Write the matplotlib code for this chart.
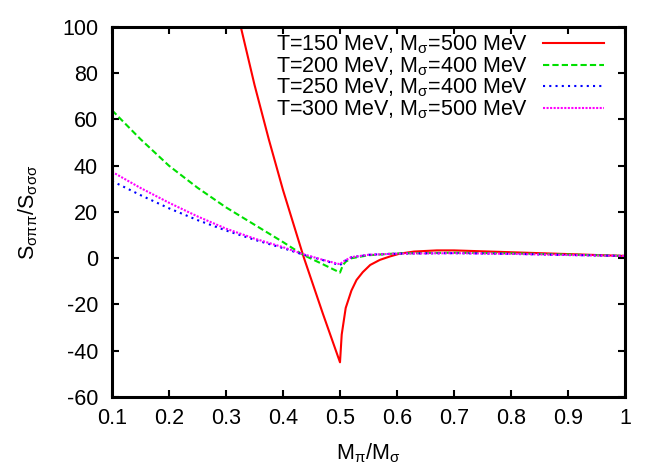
import matplotlib
matplotlib.use("Agg")
import matplotlib.pyplot as plt

# x values (M_pi / M_sigma) and ratios S_sigma-pi-pi / S_sigma-sigma-sigma
x_red = [0.30, 0.326, 0.35, 0.375, 0.40, 0.436, 0.47, 0.50, 0.503, 0.51, 0.52, 0.529, 0.54, 0.553, 0.57, 0.588, 0.605, 0.63, 0.67, 0.70, 0.80, 0.90, 1.00]
y_red = [128, 100, 75, 51.5, 29.5, 0.7, -24, -45, -33, -21.5, -14, -9.4, -6, -2.9, -0.7, 0.8, 2.0, 2.9, 3.4, 3.4, 2.6, 1.8, 1.0]

x_grn = [0.10, 0.15, 0.20, 0.25, 0.30, 0.35, 0.40, 0.435, 0.47, 0.50, 0.505, 0.51, 0.52, 0.55, 0.60, 0.70, 0.80, 0.90, 1.00]
y_grn = [64, 51.5, 40, 30.5, 22, 14.5, 7, 1.5, -2.6, -6.2, -3, -1.5, 0, 1.3, 2.1, 2.4, 2.1, 1.6, 1.0]

x_blu = [0.10, 0.15, 0.20, 0.25, 0.30, 0.35, 0.40, 0.435, 0.47, 0.50, 0.505, 0.51, 0.52, 0.55, 0.60, 0.70, 0.80, 0.90, 1.00]
y_blu = [33.4, 27.3, 21.6, 16.5, 12.0, 8.0, 4.4, 1.6, -0.8, -3, -1.8, -1, 0.4, 1.5, 2.0, 2.2, 1.9, 1.4, 1.0]

x_mag = [0.10, 0.15, 0.20, 0.25, 0.30, 0.35, 0.40, 0.435, 0.47, 0.50, 0.505, 0.51, 0.52, 0.55, 0.60, 0.70, 0.80, 0.90, 1.00]
y_mag = [37.4, 30.4, 24.0, 18.1, 12.8, 8.5, 4.8, 1.8, -0.7, -2.6, -1.5, -0.8, 0.5, 1.5, 2.0, 2.2, 1.9, 1.4, 1.0]

labels = [r"T=150 MeV, M$_\sigma$=500 MeV",
          r"T=200 MeV, M$_\sigma$=400 MeV",
          r"T=250 MeV, M$_\sigma$=400 MeV",
          r"T=300 MeV, M$_\sigma$=500 MeV"]

xticks = [0.1, 0.2, 0.3, 0.4, 0.5, 0.6, 0.7, 0.8, 0.9, 1.0]
xticklabels = ["0.1", "0.2", "0.3", "0.4", "0.5", "0.6", "0.7", "0.8", "0.9", "1"]
yticks = [-60, -40, -20, 0, 20, 40, 60, 80, 100]

plt.rcParams['font.family'] = ['Liberation Sans', 'DejaVu Sans']
plt.rcParams['mathtext.fontset'] = 'custom'
plt.rcParams['mathtext.rm'] = 'Liberation Sans'
plt.rcParams['mathtext.it'] = 'Liberation Sans'
plt.rcParams['axes.unicode_minus'] = False

FS = 15.5

fig = plt.figure(figsize=(6.64, 4.65), dpi=100)
ax = fig.add_axes([112/664, 1-397/465, (625-112)/664, (397-27)/465])

ax.plot(x_red, y_red, color='#ff0000', lw=1.5, ls='-', label=labels[0])
ax.plot(x_grn, y_grn, color='#00e000', lw=1.5, ls=(0, (3, 1.5)), label=labels[1])
ax.plot(x_blu, y_blu, color='#0000ff', lw=1.5, ls=(0, (1, 2)), label=labels[2])
ax.plot(x_mag, y_mag, color='#ff00ff', lw=1.5, ls=(0, (1, 0.7)), label=labels[3])

ax.set_xlim(0.1, 1.0)
ax.set_ylim(-60, 100)
ax.set_xticks(xticks)
ax.set_xticklabels(xticklabels)
ax.set_yticks(yticks)
ax.tick_params(direction='in', top=True, right=True, length=5, width=1.5,
               labelsize=FS)
ax.tick_params(axis='x', pad=8)
ax.tick_params(axis='y', pad=10)
for s in ax.spines.values():
    s.set_linewidth(2.2)

ax.set_xlabel(r"M$_\pi$/M$_\sigma$", fontsize=FS, labelpad=9)
ax.set_ylabel(r"S$_{\sigma\pi\pi}$/S$_{\sigma\sigma\sigma}$", fontsize=FS, labelpad=16)

leg = ax.legend(loc='upper right', frameon=False, fontsize=FS, markerfirst=False,
                handlelength=2.8, handletextpad=0.7, labelspacing=-0.05,
                bbox_to_anchor=(0.975, 1.005), borderaxespad=0.0)
for t in leg.get_texts():
    t.set_ha('right')

fig.savefig("out.png", dpi=100)
